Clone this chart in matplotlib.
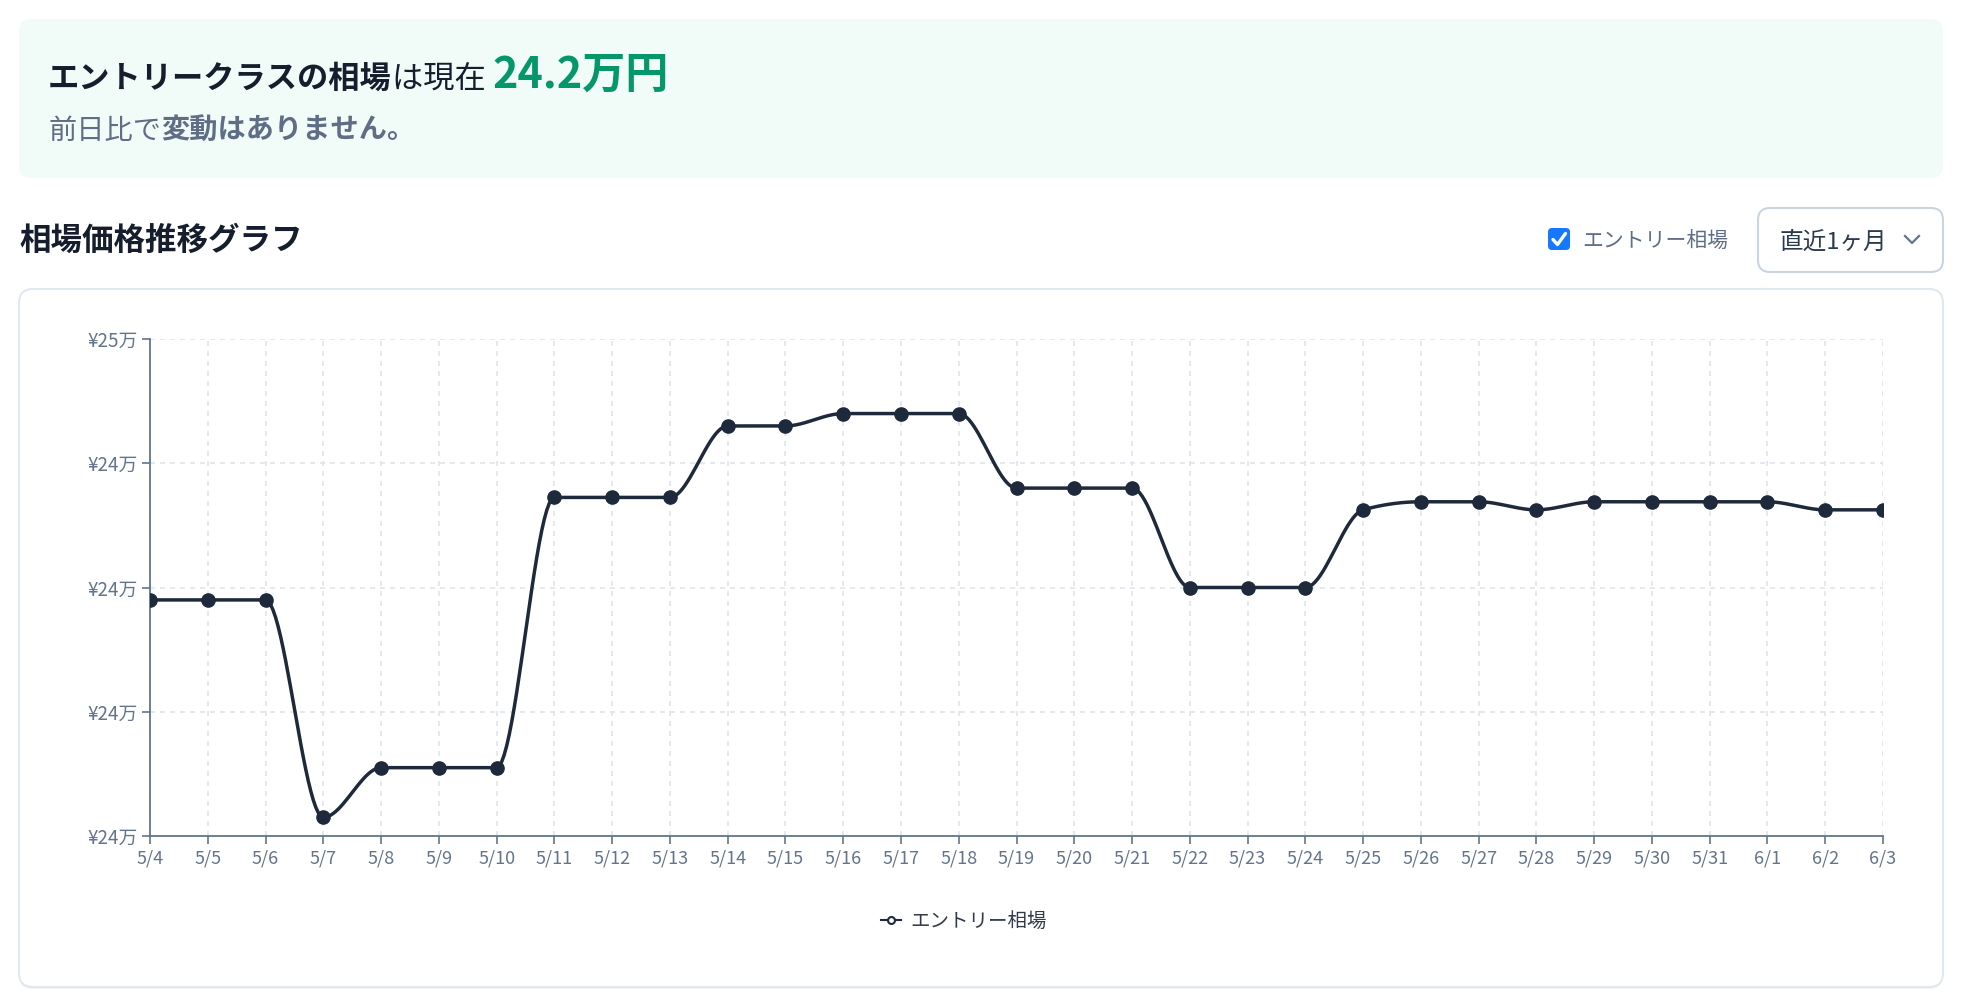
import numpy as np
import matplotlib
matplotlib.use('Agg')
import matplotlib.pyplot as plt
from matplotlib.patches import FancyBboxPatch
from matplotlib.lines import Line2D

plt.rcParams['font.family'] = ['Noto Sans CJK JP', 'DejaVu Sans']

# data
dates = ['5/4', '5/5', '5/6', '5/7', '5/8', '5/9', '5/10', '5/11', '5/12', '5/13',
         '5/14', '5/15', '5/16', '5/17', '5/18', '5/19', '5/20', '5/21', '5/22', '5/23',
         '5/24', '5/25', '5/26', '5/27', '5/28', '5/29', '5/30', '5/31', '6/1', '6/2', '6/3']
prices = [240800, 240800, 240800, 237300, 238100, 238100, 238100, 242450, 242450, 242450,
          243600, 243600, 243800, 243800, 243800, 242600, 242600, 242600, 241000, 241000,
          241000, 242250, 242380, 242380, 242250, 242380, 242380, 242380, 242380, 242250, 242250]
y_ticks = [237000, 239000, 241000, 243000, 245000]
y_tick_labels = ['¥24万', '¥24万', '¥24万', '¥24万', '¥25万']
series_name = 'エントリー相場'
current_price = '24.2万円'

W, H = 1962, 1006
LINE = '#1e293b'
SLATE = '#64748b'
GRID = '#dfe5ee'


def monotone_curve(x, y, n=24):
    # same idea as d3 curveMonotoneX
    x = np.asarray(x, float)
    y = np.asarray(y, float)
    h = np.diff(x)
    s = np.diff(y) / h
    m = np.zeros(len(x))
    for i in range(1, len(x) - 1):
        p = (s[i - 1] * h[i] + s[i] * h[i - 1]) / (h[i - 1] + h[i])
        sg0 = -1 if s[i - 1] < 0 else 1
        sg1 = -1 if s[i] < 0 else 1
        m[i] = (sg0 + sg1) * min(abs(s[i - 1]), abs(s[i]), 0.5 * abs(p))
    m[0] = (3 * s[0] - m[1]) / 2
    m[-1] = (3 * s[-1] - m[-2]) / 2
    xs, ys = [], []
    t = np.linspace(0, 1, n)
    for i in range(len(x) - 1):
        dx = h[i]
        p0, p3 = y[i], y[i + 1]
        p1 = y[i] + dx * m[i] / 3
        p2 = y[i + 1] - dx * m[i + 1] / 3
        xs.append(x[i] + dx * t)
        ys.append((1 - t) ** 3 * p0 + 3 * (1 - t) ** 2 * t * p1 + 3 * (1 - t) * t ** 2 * p2 + t ** 3 * p3)
    return np.concatenate(xs), np.concatenate(ys)


fig = plt.figure(figsize=(W / 100, H / 100), dpi=100)
fig.patch.set_facecolor('white')

# background layer in pixel coordinates
bg = fig.add_axes([0, 0, 1, 1], zorder=-1)
bg.set_xlim(0, W)
bg.set_ylim(H, 0)
bg.axis('off')

bg.add_patch(FancyBboxPatch((19, 19), 1924, 159, boxstyle='round,pad=0,rounding_size=12',
                            facecolor='#f1fcf8', edgecolor='none'))
bg.add_patch(FancyBboxPatch((19, 291), 1924, 698, boxstyle='round,pad=0,rounding_size=14',
                            facecolor='#000000', alpha=0.05, edgecolor='none'))
bg.add_patch(FancyBboxPatch((19, 289), 1924, 698, boxstyle='round,pad=0,rounding_size=14',
                            facecolor='white', edgecolor='#e2e8f0', lw=1.5))

renderer = fig.canvas.get_renderer()


def chain(parts, x, y):
    for s, size, weight, color in parts:
        t = bg.text(x, y, s, fontsize=size, fontweight=weight, color=color, va='baseline', ha='left')
        bb = t.get_window_extent(renderer)
        x = bg.transData.inverted().transform((bb.x1, bb.y0))[0]


chain([('エントリークラスの相場', 22.5, 'bold', '#161e2e'),
       ('は現在 ', 22.5, 'normal', '#161e2e'),
       (current_price, 31, 'bold', '#059669')], 48, 88)
chain([('前日比で', 20.3, 'normal', '#5f6e86'),
       ('変動はありません。', 20.3, 'bold', '#5f6e86')], 48, 139)

bg.text(19, 250, '相場価格推移グラフ', fontsize=22.7, fontweight='bold', color='#161e2e', va='baseline')

# checkbox
bg.add_patch(FancyBboxPatch((1548, 228), 22, 22, boxstyle='round,pad=0,rounding_size=4',
                            facecolor='#1677ff', edgecolor='none'))
bg.plot([1553, 1557.5, 1565.5], [239.5, 244.5, 233.5], color='white', lw=2.4,
        solid_capstyle='round', solid_joinstyle='round')
bg.text(1582, 247, series_name, fontsize=15, color='#5f6e86', va='baseline')

# dropdown
bg.add_patch(FancyBboxPatch((1758, 208), 185, 64, boxstyle='round,pad=0,rounding_size=12',
                            facecolor='white', edgecolor='#cbd5e1', lw=1.5))
bg.text(1780, 249, '直近1ヶ月', fontsize=17, color='#2c3a4f', va='baseline')
bg.plot([1905, 1912, 1919], [236, 243, 236], color=SLATE, lw=1.6)

# chart
ax = fig.add_axes([150 / W, 1 - 836 / H, (1883 - 150) / W, (836 - 339) / H])
ax.patch.set_visible(False)
x_idx = np.arange(len(dates))
sx, sy = monotone_curve(x_idx, prices)
ax.plot(sx, sy, color=LINE, lw=2.5, zorder=3)
ax.plot(x_idx, prices, 'o', color=LINE, ms=9.5, zorder=4)

ax.set_xlim(0, len(dates) - 1)
ax.set_ylim(y_ticks[0], y_ticks[-1])
ax.set_xticks(x_idx)
ax.set_xticklabels(dates)
ax.set_yticks(y_ticks)
ax.set_yticklabels(y_tick_labels)
ax.grid(True, color=GRID, lw=1.2, linestyle=(0, (3, 3)))
ax.set_axisbelow(True)
for side in ['top', 'right']:
    ax.spines[side].set_visible(False)
for side in ['left', 'bottom']:
    ax.spines[side].set_color(SLATE)
    ax.spines[side].set_linewidth(1.3)
ax.tick_params(axis='both', colors=SLATE, length=6, width=1.2)
ax.tick_params(axis='y', labelsize=13.5, pad=3)
ax.tick_params(axis='x', labelsize=13, pad=4)

handle = Line2D([], [], color=LINE, lw=1.5, marker='o', ms=5, markerfacecolor='white',
                markeredgecolor=LINE, markeredgewidth=1.5)
fig.legend([handle], [series_name], loc='center', bbox_to_anchor=(964 / W, 1 - 921 / H),
           frameon=False, fontsize=14, handlelength=1.0, handletextpad=0.5, labelcolor='#333b4a')

fig.savefig('out.png', dpi=100)
